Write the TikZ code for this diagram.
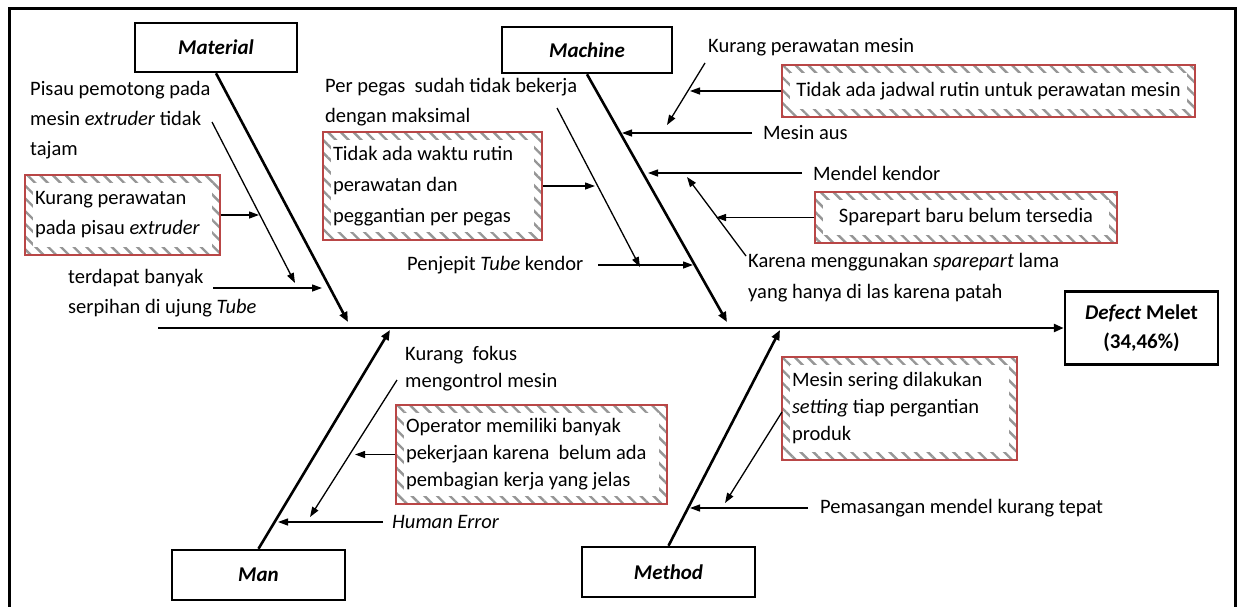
\documentclass[tikz,border=0pt]{standalone}
\usepackage{fontspec}
\setmainfont{Carlito}
\usetikzlibrary{arrows.meta,patterns.meta}
\definecolor{boxred}{RGB}{185,70,70}
\definecolor{hatchgray}{RGB}{150,150,150}
\begin{document}
\begin{tikzpicture}[x=1pt,y=-1pt,
  txt/.style={inner sep=0pt, align=left, font=\fontsize{20.5}{30}\selectfont},
  cat/.style={draw, line width=2.5pt, inner sep=0pt, font=\fontsize{21}{29}\selectfont\bfseries\itshape},
  bone/.style={line width=2.6pt, -{Triangle[length=10pt,width=8pt]}},
  arr/.style={line width=1.3pt, -{Triangle[length=10pt,width=7pt]}},
  hbox/.style={draw=boxred, line width=1.3pt, inner xsep=10pt, inner ysep=0pt, align=flush left,
     font=\fontsize{20.5}{30}\selectfont,
     preaction={pattern color=hatchgray, pattern={Lines[angle=-45,distance=9pt,line width=2.4pt]}},
     path picture={\fill[white] ([shift={(8pt,8pt)}]path picture bounding box.south west) rectangle ([shift={(-8pt,-8pt)}]path picture bounding box.north east);}},
]
\useasboundingbox (0,0) rectangle (1237,606);
% frame
\draw[line width=3pt] (9,640) -- (9,8) -- (1235,8) -- (1235,640);

% category boxes and effect
\node[cat, minimum width=162pt, minimum height=49pt] (mat) at (216,47.5) {Material};
\node[cat, minimum width=170pt, minimum height=46pt] (mach) at (587,50) {Machine};
\node[cat, minimum width=173pt, minimum height=50pt] (man) at (258.5,575) {Man};
\node[cat, minimum width=173pt, minimum height=50pt] (meth) at (668.5,572) {Method};
\node[cat, minimum width=153pt, minimum height=73pt, align=center, font=\fontsize{21}{29}\selectfont\bfseries] (eff) at (1141.5,328) {\textit{Defect} Melet\\(34,46\%)};

% spine and bones
\coordinate (spS) at (158,328);
\draw[bone] (spS) -- (eff.west);
\coordinate (matE) at (348,322);
\coordinate (machE) at (727,322);
\coordinate (manE) at (390,330);
\coordinate (methE) at (780,330);
\draw[bone] (mat.south) -- (matE);
\draw[bone] (mach.south) -- (machE);
\draw[bone] (man.north) -- (manE);
\draw[bone] (meth.north) -- (methE);

% ---------- Material ----------
\node[txt, anchor=north west] (t1) at (30,81.5) {Pisau pemotong pada\\mesin \textit{extruder} tidak\\tajam};
\node[hbox, text width=175pt, minimum height=80pt] (b1) at (122.5,215) {Kurang perawatan\\pada pisau \textit{extruder}};
\node[txt, anchor=north west] (t2) at (68,269.5) {terdapat banyak\\serpihan di ujung \textit{Tube}};
\coordinate (a1s) at (212,122);
\coordinate (a1e) at (295,283);
\coordinate (a1m) at (259,215);
\coordinate (a2s) at (213,288);
\coordinate (a2e) at (322,288);
\draw[arr] (a1s) -- (a1e);
\draw[arr] (b1.east) -- (a1m);
\draw[arr] (a2s) -- (a2e);

% ---------- Machine left ----------
\node[txt, anchor=north west] (t3) at (325,78.5) {Per pegas\ \ sudah tidak bekerja\\dengan maksimal};
\node[hbox, text width=199pt, minimum height=108pt, font=\fontsize{20.5}{31}\selectfont] (b2) at (432.5,186) {Tidak ada waktu rutin\\perawatan dan\\peggantian per pegas};
\node[txt, anchor=west] (t4) at (407,265) {Penjepit \textit{Tube} kendor};
\coordinate (a3s) at (557,108);
\coordinate (a3e) at (640,267);
\coordinate (a4e) at (595,186);
\coordinate (a5s) at (598,265);
\coordinate (a5e) at (693,265);
\draw[arr] (a3s) -- (a3e);
\draw[arr] (b2.east) -- (a4e);
\draw[arr] (a5s) -- (a5e);

% ---------- Machine right ----------
\node[txt, anchor=west] (t5) at (708,47) {Kurang perawatan mesin};
\node[hbox, align=center, minimum width=413pt, minimum height=52pt, inner xsep=6pt] (b3) at (988.5,91) {Tidak ada jadwal rutin untuk perawatan mesin};
\node[txt, anchor=west] (t6) at (763,133) {Mesin aus};
\node[txt, anchor=west] (t7) at (813,173) {Mendel kendor};
\node[hbox, align=center, minimum width=302pt, minimum height=51pt] (b4) at (966,217.5) {Sparepart baru belum tersedia};
\node[txt, anchor=north west, font=\fontsize{20.5}{31}\selectfont] (t8) at (748,253.5) {Karena menggunakan \textit{sparepart} lama\\yang hanya di las karena patah};
\coordinate (a6e) at (690,91);
\coordinate (a7s) at (705,63);
\coordinate (a7e) at (667,125);
\coordinate (a8s) at (752,133);
\coordinate (a8e) at (622,133);
\coordinate (a9s) at (802,173);
\coordinate (a9e) at (648,173);
\coordinate (a10e) at (716,217.5);
\coordinate (a11s) at (746,256);
\coordinate (a11e) at (687,177);
\draw[arr] (b3.west) -- (a6e);
\draw[arr] (a7s) -- (a7e);
\draw[arr] (a8s) -- (a8e);
\draw[arr] (a9s) -- (a9e);
\draw[arr] (b4.west) -- (a10e);
\draw[arr] (a11s) -- (a11e);

% ---------- Man ----------
\node[txt, anchor=north west, font=\fontsize{20.5}{27}\selectfont] (t9) at (405,346.5) {Kurang\ \ fokus\\mengontrol mesin};
\node[hbox, text width=251pt, minimum height=99pt, font=\fontsize{20.5}{27}\selectfont] (b5) at (531.5,454.5) {Operator memiliki banyak\\pekerjaan karena\ \ belum ada\\pembagian kerja yang jelas};
\node[txt, anchor=west] (t10) at (392,522) {\textit{Human Error}};
\coordinate (a12e) at (355,454.5);
\coordinate (a13s) at (397,380);
\coordinate (a13e) at (310,517);
\coordinate (a14s) at (383,522);
\coordinate (a14e) at (278,522);
\draw[arr] (b5.west) -- (a12e);
\draw[arr] (a13s) -- (a13e);
\draw[arr] (a14s) -- (a14e);

% ---------- Method ----------
\node[hbox, text width=215pt, minimum height=103pt, font=\fontsize{20.5}{27}\selectfont] (b6) at (899.5,408.5) {Mesin sering dilakukan\\\textit{setting} tiap pergantian\\produk};
\node[txt, anchor=west] (t11) at (820,508) {Pemasangan mendel kurang tepat};
\coordinate (a15s) at (782,412);
\coordinate (a15e) at (725,503);
\coordinate (a16s) at (808,508);
\coordinate (a16e) at (690,508);
\draw[arr] (a15s) -- (a15e);
\draw[arr] (a16s) -- (a16e);
\end{tikzpicture}
\end{document}
